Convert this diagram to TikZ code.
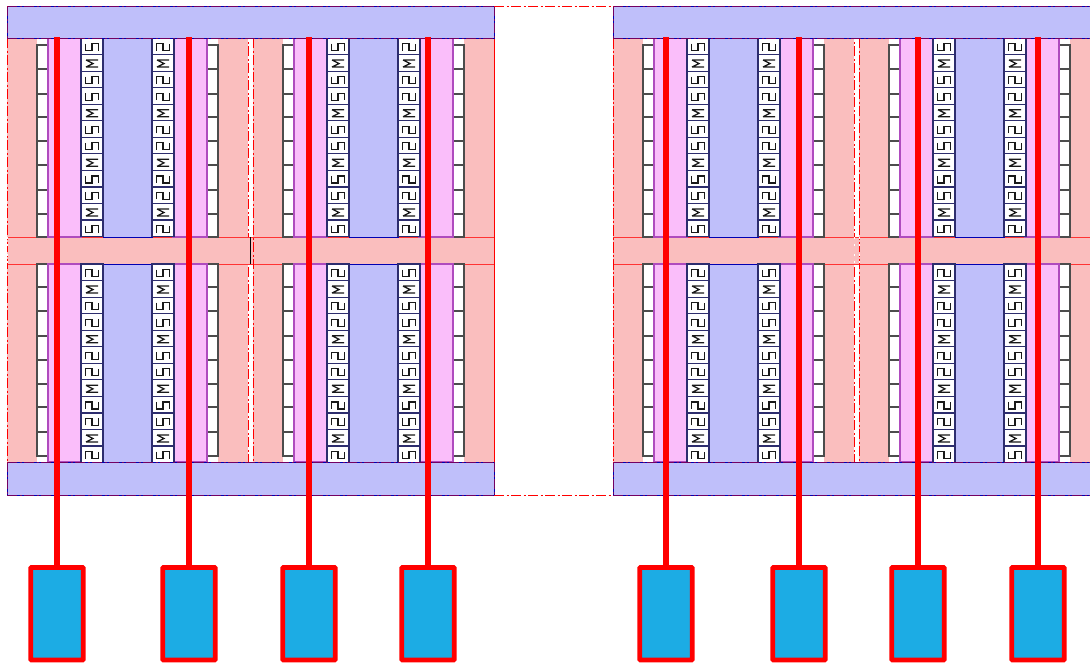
\documentclass[tikz,border=0pt]{standalone}
\usepackage{tikz}
\definecolor{diffpink}{RGB}{250,190,190}
\definecolor{wellblue}{RGB}{191,191,250}
\definecolor{implmag}{RGB}{250,190,250}
\definecolor{padblue}{RGB}{28,172,228}
\definecolor{implline}{RGB}{175,75,190}
\definecolor{contline}{RGB}{45,45,110}
\tikzset{
    difffill/.style={fill=diffpink, draw=none},
    diffline/.style={draw=red!80!white, line width=0.9pt},
    gate/.style={fill=wellblue, draw=blue!70!black, line width=1pt},
    impl/.style={fill=implmag, draw=implline, line width=1.1pt},
    strip/.style={draw=black!70, line width=1.2pt},
    cont/.style={fill=white, draw=contline, line width=1.2pt},
    glyph/.style={draw=black!90, line width=1.25pt},
    wire/.style={draw=red, line width=6pt},
    padbox/.style={fill=padblue, draw=red, line width=4.8pt, rounded corners=0.8pt},
    border/.style={draw=red, line width=0.9pt, dash pattern=on 10pt off 2.5pt on 2pt off 2.5pt},
    softborder/.style={border, draw opacity=0.45},
    gapline/.style={draw=white, line width=0.9pt, dash pattern=on 2pt off 5pt on 2pt off 8pt},
}
% sideways meander in a contact, #1 = x centre, #2 = y centre
\newcommand{\glyphS}[2]{\draw[glyph] (#1-6.5,#2-3.5) -- (#1-6.5,#2+3.5) -- (#1,#2+3.5) -- (#1,#2-3.5) -- (#1+6.5,#2-3.5) -- (#1+6.5,#2+3.5);}
\newcommand{\glyphZ}[2]{\draw[glyph] (#1-6.5,#2+3.5) -- (#1-6.5,#2-3.5) -- (#1,#2-3.5) -- (#1,#2+3.5) -- (#1+6.5,#2+3.5) -- (#1+6.5,#2-3.5);}
\newcommand{\glyphM}[2]{\draw[glyph] (#1-6,#2-3.5) -- (#1+6,#2-3.5) (#1-6,#2+3.5) -- (#1+6,#2+3.5) (#1-6,#2-3.5) -- (#1+1,#2) -- (#1-6,#2+3.5);}
% contact column, #1 = left x, #2 = top y, #3 = 0 for S rows and 1 for Z rows
\newcommand{\contcol}[3]{
    \foreach \r in {0,...,11} {
        \pgfmathsetmacro{\ya}{#2+\r*16.55}
        \pgfmathsetmacro{\ym}{\ya+9}
        \pgfmathsetmacro{\xm}{#1+11}
        \draw[cont] (#1,\ya) rectangle (#1+22,\ya+16.55);
        \pgfmathtruncatemacro{\kind}{mod(\r,3)==1 ? 2 : #3}
        \ifnum\kind=2 \glyphM{\xm}{\ym}\else\ifnum\kind=1 \glyphZ{\xm}{\ym}\else\glyphS{\xm}{\ym}\fi\fi
    }
}
% dummy strip beside the source, #1 = left x
\newcommand{\stripcol}[1]{
    \fill[white] (#1,38) rectangle (#1+11,237);
    \fill[white] (#1,264) rectangle (#1+11,462);
    \draw[strip] (#1,45) rectangle (#1+11,237);
    \draw[strip] (#1,264) rectangle (#1+11,456);
    \foreach \y in {69,94,117,141,165,190,214,287,311,336,360,384,407,432} {
        \draw[strip] (#1,\y) -- (#1+11,\y);
    }
}
% one cell of the layout, #1 = left x, #2 = 0 or 1 for the upper left contact column
\newcommand{\cell}[2]{
    \pgfmathtruncatemacro{\other}{1-#2}
    \fill[difffill] (#1,38) rectangle (#1+241,462);
    \draw[diffline] (#1,237) -- (#1+241,237) (#1,264) -- (#1+241,264);
    \stripcol{#1+30}
    \stripcol{#1+200}
    \draw[impl] (#1+41,38) rectangle (#1+74,237);
    \draw[impl] (#1+41,264) rectangle (#1+74,462);
    \draw[impl] (#1+166,38) rectangle (#1+200,237);
    \draw[impl] (#1+166,264) rectangle (#1+200,462);
    \draw[gate] (#1+96,38) rectangle (#1+145,237);
    \draw[gate] (#1+96,264) rectangle (#1+145,462);
    \contcol{#1+74}{38}{#2}
    \contcol{#1+145}{38}{\other}
    \contcol{#1+74}{264}{\other}
    \contcol{#1+145}{264}{#2}
    \draw[border] (#1,38) rectangle (#1+241,462);
}
\begin{document}
\begin{tikzpicture}[x=1pt, y=-1pt]
    \useasboundingbox (0,0) rectangle (1090,664);
    \begin{scope}
        \clip (0,0) rectangle (1090,664);

        \cell{7}{0}
        \cell{253}{0}
        \cell{613}{0}
        \cell{859}{0}

        % mid bars bridge the cells
        \fill[difffill] (248,237) rectangle (253,264);
        \fill[difffill] (854,237) rectangle (859,264);
        \draw[diffline] (248,237) -- (253,237) (248,264) -- (253,264);
        \draw[diffline] (854,237) -- (859,237) (854,264) -- (859,264);
        \draw[gapline] (7,237) -- (7,264);
        \draw[gapline] (854,237) -- (854,264) (859,237) -- (859,264);
        \draw[black, line width=1pt] (250,237) -- (250,264);

        % top and bottom bars
        \draw[gate] (7,6) rectangle (494,38.5);
        \draw[gate] (613,6) rectangle (1100,38.5);
        \draw[gate] (7,462) rectangle (494,495);
        \draw[gate] (613,462) rectangle (1100,495);
        \draw[border] (494,6) -- (613,6) (494,495) -- (613,495);
        \draw[softborder] (7,6) -- (494,6) (613,6) -- (1100,6) (7,495) -- (494,495) (613,495) -- (1100,495);
        \draw[softborder] (7,38.5) -- (494,38.5) (613,38.5) -- (1100,38.5);
        \draw[softborder] (7,462) -- (494,462) (613,462) -- (1100,462);
        \draw[softborder] (494,6) -- (494,38.5) (613,6) -- (613,38.5) (7,6) -- (7,38.5);
        \draw[softborder] (494,462) -- (494,495) (613,462) -- (613,495) (7,462) -- (7,495);
        \draw[border] (494,38.5) -- (494,462) (613,38.5) -- (613,462);

        % pads and wires
        \foreach \x [count=\i] in {57,189,309,428,666,799,918,1038} {
            \node[padbox, minimum width=52.6pt, minimum height=92.5pt, inner sep=0pt] (pad\i) at (\x,613.8) {};
            \coordinate (top\i) at (\x,37);
            \draw[wire] (top\i) -- (pad\i.north);
        }
    \end{scope}
\end{tikzpicture}
\end{document}
